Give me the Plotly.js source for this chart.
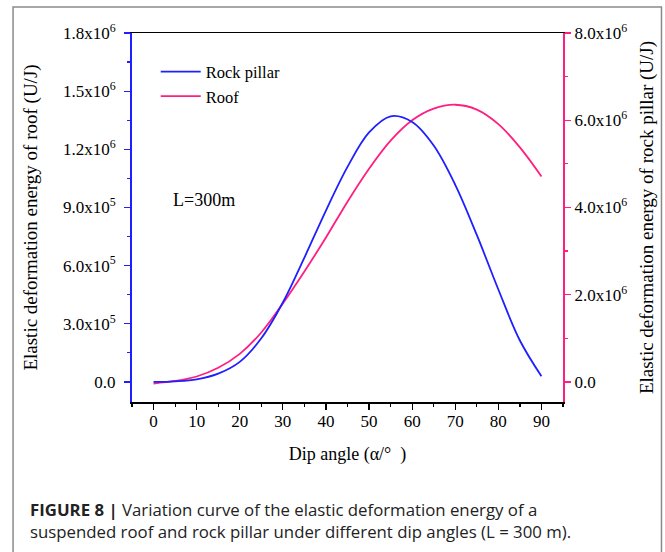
<!DOCTYPE html>
<html>
<head>
<meta charset="utf-8">
<script src="https://cdn.plot.ly/plotly-3.0.1.min.js"></script>
<style>
html,body{margin:0;padding:0;background:#fff;}
#chart{width:665px;height:552px;}
</style>
</head>
<body>
<div id="chart"></div>
<script>
// Data
const dipAngle = [0, 5, 10, 15, 20, 25, 30, 35, 40, 45, 50, 55, 60, 65, 70, 75, 80, 85, 90];
const rockPillarEnergy = [0, 1.5e4, 6e4, 1.9e5, 4.6e5, 1.0e6, 1.82e6, 2.85e6, 3.93e6, 4.93e6, 5.72e6, 6.09e6, 5.96e6, 5.42e6, 4.52e6, 3.37e6, 2.12e6, 9.5e5, 1.3e5];
const roofEnergy = [-8e3, 5e3, 2.8e4, 7.3e4, 1.45e5, 2.55e5, 4.05e5, 5.7e5, 7.45e5, 9.3e5, 1.1e6, 1.245e6, 1.35e6, 1.41e6, 1.43e6, 1.405e6, 1.33e6, 1.21e6, 1.06e6];

const xTickVals = [0, 10, 20, 30, 40, 50, 60, 70, 80, 90];
const leftTickVals = [0, 3e5, 6e5, 9e5, 1.2e6, 1.5e6, 1.8e6];
const leftTickText = ['0.0', '3.0x10<sup>5</sup>', '6.0x10<sup>5</sup>', '9.0x10<sup>5</sup>', '1.2x10<sup>6</sup>', '1.5x10<sup>6</sup>', '1.8x10<sup>6</sup>'];
const rightTickVals = [0, 2e6, 4e6, 6e6, 8e6];
const rightTickText = ['0.0', '2.0x10<sup>6</sup>', '4.0x10<sup>6</sup>', '6.0x10<sup>6</sup>', '8.0x10<sup>6</sup>'];

const BLUE = '#1f1fff';
const PINK = '#ff1f80';
const SERIF = '"Liberation Serif", "Times New Roman", serif';
const SANS = '"Open Sans", "Liberation Sans", Arial, sans-serif';

const traces = [
  {x: dipAngle, y: rockPillarEnergy, name: 'Rock pillar', type: 'scatter', mode: 'lines',
   line: {color: BLUE, width: 1.8, shape: 'spline', smoothing: 1}, yaxis: 'y2'},
  {x: dipAngle, y: roofEnergy, name: 'Roof', type: 'scatter', mode: 'lines',
   line: {color: PINK, width: 1.8, shape: 'spline', smoothing: 1}, yaxis: 'y'}
];

const layout = {
  width: 665, height: 552,
  margin: {l: 132, r: 102, t: 33, b: 150},
  paper_bgcolor: '#fff', plot_bgcolor: '#fff',
  font: {family: SERIF, size: 17, color: '#000'},
  showlegend: true,
  legend: {x: 0.055, y: 0.942, xanchor: 'left', yanchor: 'top', bgcolor: 'rgba(0,0,0,0)',
           font: {family: SERIF, size: 16.5, color: '#000'}, tracegroupgap: 0, itemwidth: 40},
  xaxis: {
    range: [-5, 95], showgrid: false, zeroline: false,
    showline: true, linecolor: '#000', linewidth: 1.5, mirror: true,
    ticks: 'outside', ticklen: 6, tickwidth: 1.2, tickcolor: '#000',
    tickvals: xTickVals, ticklabelstandoff: -3,
    minor: {dtick: 5, tick0: 0, ticks: 'outside', ticklen: 3, tickwidth: 1.2, tickcolor: '#000'},
    tickfont: {family: SERIF, size: 17},
    title: {text: 'Dip angle (α/°\u00a0\u00a0)', font: {family: SERIF, size: 18}, standoff: 17}
  },
  yaxis: {
    range: [-1.035e5, 1.8e6], showgrid: false, zeroline: false,
    showline: true, linecolor: BLUE, linewidth: 2,
    ticks: 'outside', ticklen: 6, tickwidth: 1.2, tickcolor: BLUE,
    tickvals: leftTickVals, ticktext: leftTickText, ticklabelstandoff: 5,
    minor: {dtick: 1.5e5, tick0: 0, ticks: 'outside', ticklen: 3, tickwidth: 1.2, tickcolor: BLUE},
    tickfont: {family: SERIF, size: 17},
    title: {text: 'Elastic deformation energy of roof (U/J)', font: {family: SERIF, size: 19}, standoff: 20}
  },
  yaxis2: {
    overlaying: 'y', side: 'right',
    range: [-4.6e5, 8e6], showgrid: false, zeroline: false,
    showline: true, linecolor: PINK, linewidth: 2,
    ticks: 'outside', ticklen: 6, tickwidth: 1.2, tickcolor: PINK,
    tickvals: rightTickVals, ticktext: rightTickText,
    minor: {dtick: 1e6, tick0: 0, ticks: 'outside', ticklen: 3, tickwidth: 1.2, tickcolor: PINK},
    tickfont: {family: SERIF, size: 17},
    title: {text: 'Elastic deformation energy of rock pillar (U/J)', font: {family: SERIF, size: 19}, standoff: 14}
  },
  annotations: [
    {text: 'L=300m', xref: 'paper', yref: 'paper', x: 0.09, y: 0.547, xanchor: 'left', yanchor: 'middle',
     showarrow: false, font: {family: SERIF, size: 18, color: '#000'}},
    {text: '<b>FIGURE 8 |</b> Variation curve of the elastic deformation energy of a', xref: 'paper', yref: 'paper',
     x: -0.2413, y: -0.2905, xanchor: 'left', yanchor: 'middle', showarrow: false,
     font: {family: SANS, size: 16.8, color: '#222'}},
    {text: 'suspended roof and rock pillar under different dip angles (L = 300 m).', xref: 'paper', yref: 'paper',
     x: -0.2413, y: -0.3515, xanchor: 'left', yanchor: 'middle', showarrow: false,
     font: {family: SANS, size: 16.8, color: '#222'}}
  ],
  shapes: [
    {type: 'rect', xref: 'paper', yref: 'paper', x0: -0.276, x1: 1.2285, y0: -0.45, y1: 1.0705,
     line: {color: '#8a8a8a', width: 1.5}, fillcolor: 'rgba(0,0,0,0)', layer: 'below'}
  ]
};

Plotly.newPlot('chart', traces, layout, {displayModeBar: false, staticPlot: true});
</script>
</body>
</html>
